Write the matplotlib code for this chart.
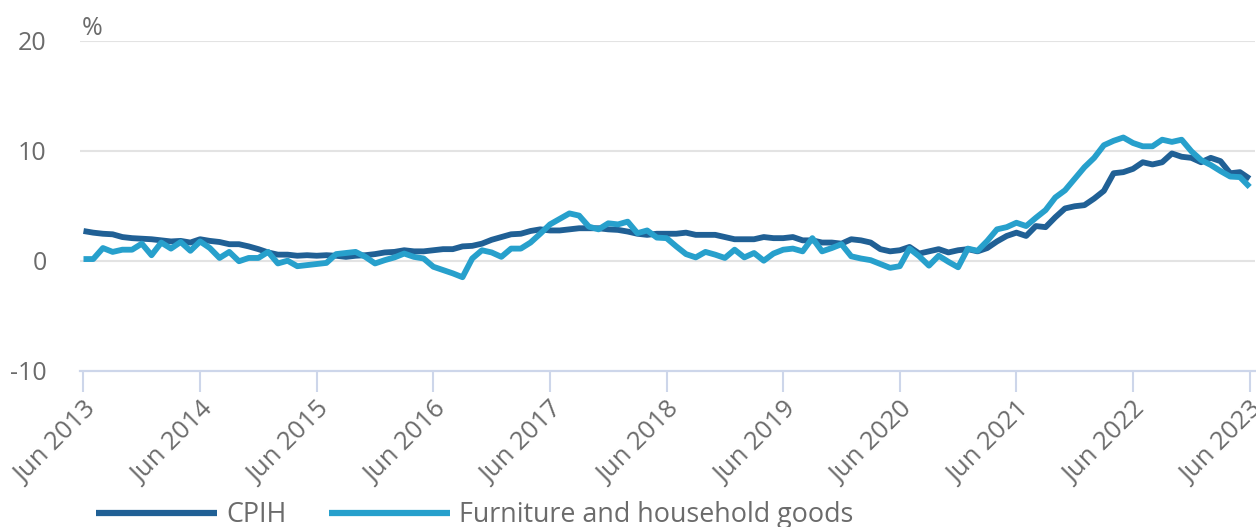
import matplotlib
matplotlib.use("Agg")
import matplotlib.pyplot as plt
import numpy as np

plt.rcParams['font.family'] = ['Open Sans', 'DejaVu Sans']

# monthly 12-month rates, Jun 2013 .. Jun 2023
cpih = [
    2.7, 2.55, 2.45, 2.4, 2.15, 2.05, 2.0,
    1.95, 1.85, 1.75, 1.8, 1.65, 1.95, 1.8, 1.7, 1.5, 1.5, 1.3, 1.05,
    0.75, 0.55, 0.55, 0.45, 0.5, 0.45, 0.5, 0.45, 0.35, 0.45, 0.5, 0.6,
    0.75, 0.8, 0.95, 0.85, 0.85, 0.95, 1.05, 1.05, 1.3, 1.35, 1.55, 1.9,
    2.15, 2.4, 2.45, 2.7, 2.85, 2.75, 2.75, 2.85, 2.95, 2.95, 2.95, 2.85,
    2.8, 2.65, 2.45, 2.35, 2.45, 2.45, 2.45, 2.55, 2.35, 2.35, 2.35, 2.15,
    1.95, 1.95, 1.95, 2.15, 2.05, 2.05, 2.15, 1.85, 1.85, 1.65, 1.65, 1.55,
    1.95, 1.85, 1.65, 1.05, 0.85, 0.95, 1.25, 0.65, 0.85, 1.05, 0.75, 0.95,
    1.05, 0.85, 1.15, 1.75, 2.25, 2.55, 2.25, 3.15, 3.05, 3.95, 4.75, 4.95,
    5.05, 5.65, 6.35, 7.95, 8.05, 8.35, 8.95, 8.75, 8.95, 9.75, 9.45, 9.35,
    8.95, 9.35, 9.05, 7.95, 8.05, 7.45,
]
furniture = [
    0.15, 0.15, 1.15, 0.8, 1.0, 1.0, 1.55,
    0.5, 1.65, 1.1, 1.7, 0.9, 1.75, 1.15, 0.25, 0.8, -0.05, 0.25, 0.25,
    0.8, -0.25, 0.0, -0.5, -0.4, -0.3, -0.2, 0.6, 0.7, 0.8, 0.35, -0.25,
    0.05, 0.3, 0.65, 0.35, 0.2, -0.55, -0.85, -1.15, -1.5, 0.2, 0.95, 0.75,
    0.35, 1.1, 1.1, 1.65, 2.45, 3.3, 3.8, 4.3, 4.1, 3.1, 2.85, 3.4,
    3.3, 3.55, 2.5, 2.75, 2.1, 2.05, 1.3, 0.6, 0.3, 0.8, 0.55, 0.25,
    1.0, 0.3, 0.7, 0.0, 0.65, 1.0, 1.1, 0.85, 2.05, 0.85, 1.15, 1.5,
    0.4, 0.2, 0.05, -0.3, -0.65, -0.5, 1.1, 0.4, -0.45, 0.45, -0.1, -0.6,
    1.1, 0.9, 1.8, 2.85, 3.05, 3.45, 3.15, 3.9, 4.6, 5.75, 6.4, 7.45,
    8.5, 9.35, 10.5, 10.9, 11.2, 10.7, 10.4, 10.4, 11.0, 10.8, 11.0, 9.95,
    9.15, 8.7, 8.15, 7.65, 7.6, 6.7,
]
tick_labels = ['Jun %d' % y for y in range(2013, 2024)]
yticks = [-10, 0, 10, 20]

months = np.arange(len(cpih))

W, H = 1256, 527
fig = plt.figure(figsize=(W / 100, H / 100), dpi=100)
ax = fig.add_axes([80 / W, (H - 370.7) / H, 1175 / W, 330 / H])

grey = '#6b6b6b'
axis_col = '#cdd6ea'

for g in [0, 10, 20]:
    ax.axhline(g, color='#e3e3e3', lw=1.5, zorder=1)

l1, = ax.plot(months, cpih, color='#206095', lw=4.2, solid_joinstyle='round',
              solid_capstyle='butt', zorder=3, label='CPIH')
l2, = ax.plot(months, furniture, color='#27a0cc', lw=4.2, solid_joinstyle='round',
              solid_capstyle='butt', zorder=4, label='Furniture and household goods')

ax.set_xlim(-0.36, 120.55)
ax.set_ylim(-10, 20)

for s in ['top', 'right', 'left']:
    ax.spines[s].set_visible(False)
ax.spines['bottom'].set_color(axis_col)
ax.spines['bottom'].set_linewidth(1.6)

ax.set_yticks(yticks)
ax.set_yticklabels([str(v) for v in yticks])
ax.tick_params(axis='y', length=0, pad=24, labelsize=18, labelcolor=grey)

ax.set_xticks(np.arange(0, 121, 12))
ax.set_xticklabels(tick_labels, rotation=45, ha='right', va='top',
                   rotation_mode='anchor')
ax.tick_params(axis='x', length=15, width=1.5, color=axis_col, pad=4,
               labelsize=18.5, labelcolor=grey)

fig.text(82 / W, (H - 35) / H, '%', fontsize=18, color=grey, va='baseline')

leg = fig.legend(handles=[l1, l2], loc='center left',
                 bbox_to_anchor=(96 / W, (H - 515) / H), ncol=2, frameon=False,
                 fontsize=19.4, handlelength=4.5, handletextpad=0.35,
                 columnspacing=1.55, borderpad=0, borderaxespad=0)
for t in leg.get_texts():
    t.set_color(grey)
for h in leg.legend_handles:
    h.set_linewidth(4.5)

fig.savefig('out.png', dpi=100)
